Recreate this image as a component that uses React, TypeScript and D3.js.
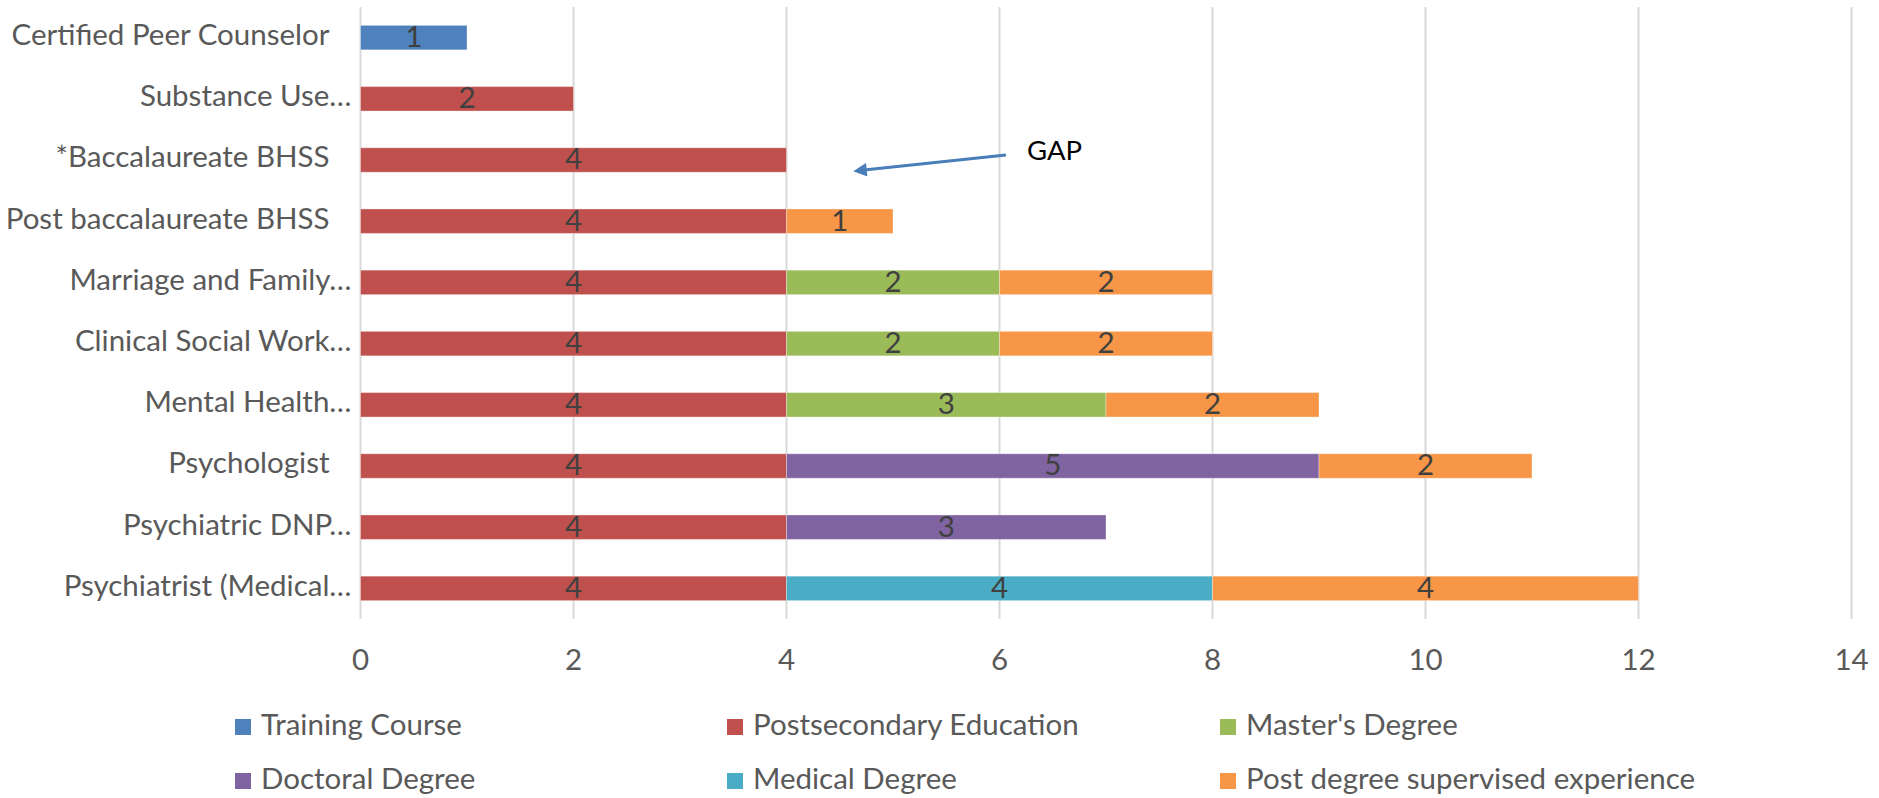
import React from "react";
import * as d3 from "d3";

const categories = [
  "Certified Peer Counselor ",
  "Substance Use…",
  "*Baccalaureate BHSS ",
  "Post baccalaureate BHSS ",
  "Marriage and Family…",
  "Clinical Social Work…",
  "Mental Health…",
  "Psychologist ",
  "Psychiatric DNP…",
  "Psychiatrist (Medical…",
];

const seriesNames = [
  "Training Course",
  "Postsecondary Education",
  "Master's Degree",
  "Doctoral Degree",
  "Medical Degree",
  "Post degree supervised experience",
];

const trainingCourse = [1, 0, 0, 0, 0, 0, 0, 0, 0, 0];
const postsecondary = [0, 2, 4, 4, 4, 4, 4, 4, 4, 4];
const masters = [0, 0, 0, 0, 2, 2, 3, 0, 0, 0];
const doctoral = [0, 0, 0, 0, 0, 0, 0, 5, 3, 0];
const medical = [0, 0, 0, 0, 0, 0, 0, 0, 0, 4];
const postDegree = [0, 0, 0, 1, 2, 2, 2, 2, 0, 4];

const seriesValues = [trainingCourse, postsecondary, masters, doctoral, medical, postDegree];
const colors = ["#4F81BD", "#C0504D", "#9BBB59", "#8064A2", "#4BACC6", "#F79646"];
const xTicks = [0, 2, 4, 6, 8, 10, 12, 14];

const W = 1879;
const H = 798;
const FONT = "Lato, 'Open Sans', sans-serif";
const FS = 29.5;

export default function App() {
  const left = 360.5;
  const right = 1851.5;
  const top = 7;
  const bottom = 619;

  const x = d3.scaleLinear().domain([0, 14]).range([left, right]);
  const y = d3
    .scaleBand<string>()
    .domain(categories)
    .range([top, bottom])
    .paddingInner(0.6)
    .paddingOuter(0.3);

  const rows = categories.map((c, i) => {
    const o: any = { cat: c };
    seriesNames.forEach((s, j) => (o[s] = seriesValues[j][i]));
    return o;
  });
  const stack = d3.stack<any>().keys(seriesNames)(rows);

  const legendCols = [235, 727, 1220];
  const legendRows = [727, 781];

  return (
    <svg
      width={W}
      height={H}
      style={{ position: "absolute", left: 0, top: 0, background: "#fff" }}
      fontFamily={FONT}
    >
      {xTicks.map((t) => (
        <line key={t} x1={x(t)} x2={x(t)} y1={top} y2={bottom} stroke="#D9D9D9" strokeWidth={2} />
      ))}
      {stack.map((layer, j) =>
        layer.map((d, i) => {
          const v = d[1] - d[0];
          if (v <= 0) return null;
          const y0 = y(categories[i])!;
          return (
            <g key={`${j}-${i}`}>
              <rect
                x={x(d[0])}
                y={y0}
                width={x(d[1]) - x(d[0])}
                height={y.bandwidth()}
                fill={colors[j]}
                stroke="#ffffff"
                strokeOpacity={0.35}
                strokeWidth={1}
              />
              <text
                x={(x(d[0]) + x(d[1])) / 2}
                y={y0 + y.bandwidth() / 2 + 2}
                textAnchor="middle"
                dominantBaseline="middle"
                fontSize={FS}
                fill="#404040"
              >
                {v}
              </text>
            </g>
          );
        })
      )}
      {categories.map((c) => (
        <text
          key={c}
          x={c.endsWith(" ") ? left - 31 : left - 9}
          y={y(c)! + y.bandwidth() / 2}
          textAnchor="end"
          dominantBaseline="middle"
          fontSize={FS}
          fill="#595959"
        >
          {c.trim()}
        </text>
      ))}
      {xTicks.map((t) => (
        <text
          key={t}
          x={x(t)}
          y={663}
          textAnchor="middle"
          dominantBaseline="middle"
          fontSize={FS}
          fill="#595959"
        >
          {t}
        </text>
      ))}
      {seriesNames.map((s, j) => {
        const cx = legendCols[j % 3];
        const cy = legendRows[Math.floor(j / 3)];
        return (
          <g key={s}>
            <rect x={cx} y={cy - 8} width={16} height={16} fill={colors[j]} />
            <text x={cx + 26} y={cy + 1} dominantBaseline="middle" fontSize={FS} fill="#595959">
              {s}
            </text>
          </g>
        );
      })}
      <defs>
        <marker id="arrow" viewBox="0 0 10 10" refX="2" refY="5" markerWidth="5.5" markerHeight="4.5" orient="auto">
          <path d="M0,0 L10,5 L0,10 z" fill="#4A7EBB" />
        </marker>
      </defs>
      <line
        x1={1006}
        y1={155}
        x2={864}
        y2={170}
        stroke="#4A7EBB"
        strokeWidth={3}
        markerEnd="url(#arrow)"
      />
      <text x={1027} y={153} dominantBaseline="middle" fontSize={27.5} fill="#000">
        GAP
      </text>
    </svg>
  );
}
